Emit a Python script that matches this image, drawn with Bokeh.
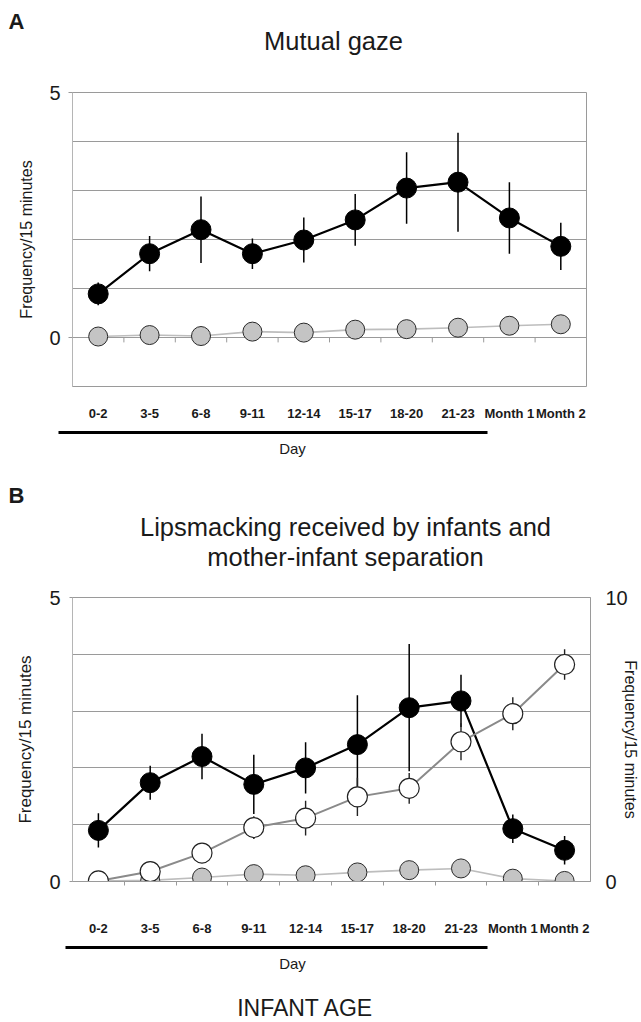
import math
from bokeh.plotting import figure
from bokeh.layouts import column
from bokeh.models import (Range1d, LinearAxis, FixedTicker, Label, Arrow,
                          ColumnDataSource)
from bokeh.embed import file_html
from bokeh.resources import INLINE

# ---------------- data ----------------
categories = ["0-2", "3-5", "6-8", "9-11", "12-14", "15-17", "18-20", "21-23",
              "Month 1", "Month 2"]

# Panel A: mutual gaze (frequency / 15 min)
a_gaze_mean = [0.89, 1.71, 2.20, 1.71, 1.99, 2.40, 3.05, 3.17, 2.44, 1.86]
a_gaze_err = [0.23, 0.36, 0.68, 0.31, 0.46, 0.53, 0.73, 1.01, 0.73, 0.48]
a_ctrl_mean = [0.02, 0.05, 0.03, 0.12, 0.10, 0.16, 0.17, 0.20, 0.24, 0.27]

# Panel B: lipsmacking received (left axis) and separation (right axis)
b_lip_mean = [0.90, 1.74, 2.20, 1.71, 2.00, 2.41, 3.06, 3.18, 0.93, 0.55]
b_lip_err = [0.30, 0.30, 0.40, 0.52, 0.45, 0.87, 1.12, 0.46, 0.25, 0.25]
b_sep_mean = [0.02, 0.35, 1.00, 1.90, 2.23, 2.98, 3.28, 4.92, 5.91, 7.64]
b_sep_err = [0.00, 0.00, 0.00, 0.40, 0.61, 0.67, 0.54, 0.65, 0.58, 0.54]
b_ctrl_mean = [0.01, 0.02, 0.07, 0.13, 0.11, 0.16, 0.20, 0.23, 0.05, 0.01]

a_yticks = [0, 5]
a_grid = [0, 1, 2, 3, 4]
b_yticks = [0, 5]
b_rticks = [0, 10]
b_grid = [1, 2, 3, 4]

# ---------------- styling ----------------
FONT = "Liberation Sans"
TXT = "#1a1a1a"
W = 641
xpos = list(range(len(categories)))
bounds = [i + 0.5 for i in range(len(categories) - 1)]
overrides = {i: c for i, c in enumerate(categories)}


def blank(h):
    f = figure(width=W, height=h, x_range=Range1d(0, W), y_range=Range1d(0, h),
               output_backend="svg", toolbar_location=None, min_border=0,
               x_axis_location=None, y_axis_location=None, frame_align=False)
    f.outline_line_color = None
    f.grid.visible = False
    return f


def add_text(p, top, h, text, rx, ry, size, bold=False):
    # rx, ry: page position; converted to screen units of a full-frame figure
    p.add_layout(Label(x=rx, y=top + h - ry, x_units="screen", y_units="screen",
                       text=text, text_font=FONT, text_font_size=f"{size}px",
                       text_font_style="bold" if bold else "normal",
                       text_align="center", text_baseline="middle",
                       text_color=TXT))


def add_hline(p, top, h, rx0, rx1, ry, width=3):
    sy = top + h - ry
    p.add_layout(Arrow(x_start=rx0, y_start=sy, x_end=rx1, y_end=sy,
                       start_units="screen", end_units="screen",
                       start=None, end=None, line_color="black",
                       line_width=width))


def style_y(ax, label, label_size, standoff, lab_standoff, ticks, tick_out=4):
    ax.ticker = FixedTicker(ticks=ticks)
    ax.major_label_text_font = FONT
    ax.major_label_text_font_size = "20px"
    ax.major_label_text_color = TXT
    ax.major_tick_out = tick_out
    ax.major_tick_in = 0
    ax.major_tick_line_color = "#999999"
    ax.minor_tick_out = 0
    ax.minor_tick_in = 0
    ax.axis_line_color = "#b5b5b5"
    ax.major_label_standoff = standoff
    ax.axis_label = label
    ax.axis_label_text_font = FONT
    ax.axis_label_text_font_size = f"{label_size}px"
    ax.axis_label_text_font_style = "normal"
    ax.axis_label_text_color = TXT
    ax.axis_label_standoff = lab_standoff


def style_x(ax, standoff, minor_out):
    ax.ticker = FixedTicker(ticks=xpos, minor_ticks=bounds)
    ax.major_label_overrides = overrides
    ax.major_label_text_font = FONT
    ax.major_label_text_font_size = "13px"
    ax.major_label_text_font_style = "bold"
    ax.major_label_text_color = TXT
    ax.major_tick_out = 0
    ax.major_tick_in = 0
    ax.minor_tick_out = minor_out
    ax.minor_tick_in = 0
    ax.minor_tick_line_color = "#9a9a9a"
    ax.major_label_standoff = standoff


# ======================= Panel A header =======================
HA_TOP, HA_H = 0, 75
ha = blank(HA_H)
add_text(ha, HA_TOP, HA_H, "A", 16, 21, 22, bold=True)
add_text(ha, HA_TOP, HA_H, "Mutual gaze", 333, 40, 25.5)

# ======================= Panel A chart =======================
pa = figure(width=W, height=348, x_range=Range1d(-0.5, len(categories) - 0.5),
            y_range=Range1d(-1, 5), output_backend="svg", toolbar_location=None,
            min_border_left=72, min_border_right=55, min_border_top=17,
            min_border_bottom=36, frame_align=False)
pa.outline_line_color = "#9a9a9a"
pa.xgrid.visible = False
pa.ygrid.ticker = FixedTicker(ticks=a_grid)
pa.ygrid.grid_line_color = "#9a9a9a"
pa.ygrid.grid_line_width = 1.2
style_y(pa.yaxis[0], "Frequency/15 minutes", 16, 8, 11, a_yticks)
style_x(pa.xaxis[0], 19, 0)
pa.xaxis[0].axis_line_color = None

src_a = ColumnDataSource(dict(
    x=xpos, gaze=a_gaze_mean, ctrl=a_ctrl_mean,
    lo=[m - e for m, e in zip(a_gaze_mean, a_gaze_err)],
    hi=[m + e for m, e in zip(a_gaze_mean, a_gaze_err)]))

# small ticks on the zero line between categories
pa.segment(x0=bounds, y0=[0] * len(bounds), x1=bounds, y1=[-0.1] * len(bounds),
           line_color="#9a9a9a", line_width=1)

pa.line("x", "ctrl", source=src_a, line_color="#bdbdbd", line_width=1.6)
pa.scatter("x", "ctrl", source=src_a, size=19, fill_color="#c4c4c4",
           line_color="#2a2a2a", line_width=1)
pa.segment(x0="x", y0="lo", x1="x", y1="hi", source=src_a,
           line_color="black", line_width=1.5)
pa.line("x", "gaze", source=src_a, line_color="black", line_width=2.2)
pa.scatter("x", "gaze", source=src_a, size=20, fill_color="black",
           line_color="black")

# ======================= Panel A footer =======================
FA_TOP, FA_H = 423, 47
fa = blank(FA_H)
add_hline(fa, FA_TOP, FA_H, 58, 487, 432)
add_text(fa, FA_TOP, FA_H, "Day", 292, 448, 15)

# ======================= Panel B header =======================
HB_TOP, HB_H = 470, 110
hb = blank(HB_H)
add_text(hb, HB_TOP, HB_H, "B", 16, 495, 22, bold=True)
add_text(hb, HB_TOP, HB_H, "Lipsmacking received by infants and", 345, 526, 25.5)
add_text(hb, HB_TOP, HB_H, "mother-infant separation", 345, 556, 25.5)

# ======================= Panel B chart =======================
pb = figure(width=W, height=360, x_range=Range1d(-0.5, len(categories) - 0.5),
            y_range=Range1d(0, 5), output_backend="svg", toolbar_location=None,
            min_border_left=72, min_border_right=47, min_border_top=17,
            min_border_bottom=59, frame_align=False)
pb.extra_y_ranges = {"right": Range1d(0, 10)}
pb.outline_line_color = "#9a9a9a"
pb.xgrid.visible = False
pb.ygrid.ticker = FixedTicker(ticks=b_grid)
pb.ygrid.grid_line_color = "#9a9a9a"
pb.ygrid.grid_line_width = 1.2
style_y(pb.yaxis[0], "Frequency/15 minutes", 17, 9, 11, b_yticks, tick_out=3)
style_x(pb.xaxis[0], 35, 4)
pb.xaxis[0].axis_line_color = "#9a9a9a"

ry = LinearAxis(y_range_name="right")
style_y(ry, "Frequency/15 minutes", 16, 15, -9, b_rticks, tick_out=0)
ry.axis_line_color = "#9a9a9a"
pb.add_layout(ry, "right")

src_b = ColumnDataSource(dict(
    x=xpos, lip=b_lip_mean, sep=b_sep_mean, ctrl=b_ctrl_mean,
    lo=[m - e for m, e in zip(b_lip_mean, b_lip_err)],
    hi=[m + e for m, e in zip(b_lip_mean, b_lip_err)],
    slo=[m - e for m, e in zip(b_sep_mean, b_sep_err)],
    shi=[m + e for m, e in zip(b_sep_mean, b_sep_err)]))

pb.line("x", "ctrl", source=src_b, line_color="#bdbdbd", line_width=1.6)
pb.scatter("x", "ctrl", source=src_b, size=19, fill_color="#c4c4c4",
           line_color="#2a2a2a", line_width=1)
pb.segment(x0="x", y0="lo", x1="x", y1="hi", source=src_b,
           line_color="black", line_width=1.5)
pb.line("x", "lip", source=src_b, line_color="black", line_width=2.2)
pb.scatter("x", "lip", source=src_b, size=20, fill_color="black",
           line_color="black")
pb.segment(x0="x", y0="slo", x1="x", y1="shi", source=src_b,
           y_range_name="right", line_color="#222222", line_width=1.4)
pb.line("x", "sep", source=src_b, y_range_name="right",
        line_color="#8a8a8a", line_width=2)
pb.scatter("x", "sep", source=src_b, y_range_name="right", size=20,
           fill_color="white", line_color="#222222", line_width=1.2)

# ======================= Panel B footer =======================
FB_TOP, FB_H = 940, 82
fb = blank(FB_H)
add_hline(fb, FB_TOP, FB_H, 65, 487, 947)
add_text(fb, FB_TOP, FB_H, "Day", 292, 963, 15)
add_text(fb, FB_TOP, FB_H, "INFANT AGE", 305, 1007, 23)

layout = column(ha, pa, fa, hb, pb, fb, spacing=0)
open("out.html", "w").write(file_html(layout, INLINE))
